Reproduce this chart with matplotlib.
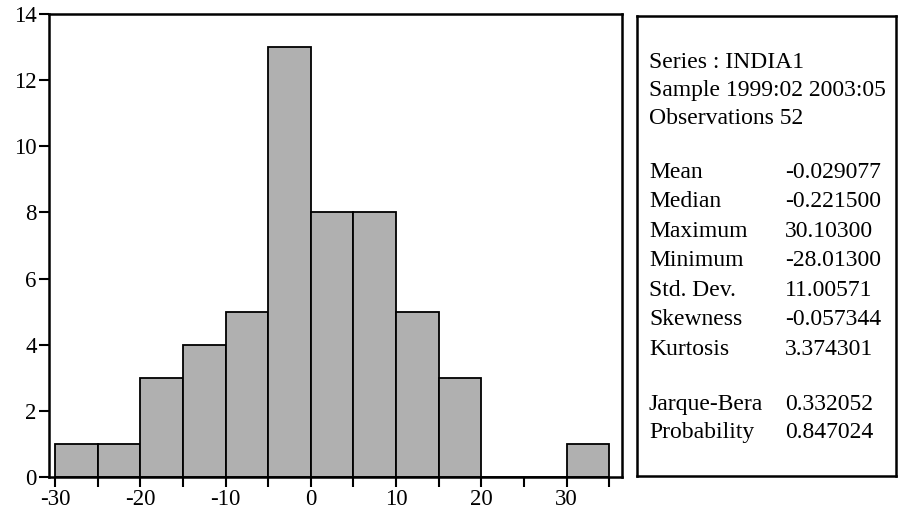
import numpy as np
import matplotlib.pyplot as plt

### 0. Data
bin_edges = [-30, -25, -20, -15, -10, -5, 0, 5, 10, 15, 20, 25, 30, 35]
counts = [1, 1, 3, 4, 5, 13, 8, 8, 5, 3, 0, 0, 1]
x_ticks = [-30, -25, -20, -15, -10, -5, 0, 5, 10, 15, 20, 25, 30, 35]
x_labels = ['-30', '', '-20', '', '-10', '', '0', '', '10', '', '20', '', '30', '']
y_ticks = [0, 2, 4, 6, 8, 10, 12, 14]

header_lines = ['Series : INDIA1', 'Sample 1999:02 2003:05', 'Observations 52']
stat_names = ['Mean', 'Median', 'Maximum', 'Minimum', 'Std. Dev.', 'Skewness', 'Kurtosis']
stat_values = ['-0.029077', '-0.221500', '30.10300', '-28.01300', '11.00571', '-0.057344', '3.374301']
test_names = ['Jarque-Bera', 'Probability']
test_values = ['0.332052', '0.847024']

plt.rcParams['font.family'] = ['Liberation Serif', 'DejaVu Serif']

### 1. Figure
fig = plt.figure(figsize=(9.01, 5.17), dpi=100)
ax = fig.add_axes([0.0544, 0.0774, 0.6360, 0.8956])

lefts = np.array(bin_edges[:-1])
widths = np.diff(bin_edges)
ax.bar(lefts, counts, width=widths, align='edge', color='#b0b0b0',
       edgecolor='black', linewidth=1.3)

ax.set_xlim(-30.7, 36.5)
ax.set_ylim(0, 14)
ax.set_xticks(x_ticks)
ax.set_xticklabels(x_labels)
ax.set_yticks(y_ticks)
ax.tick_params(axis='both', direction='out', length=7, width=1.5, labelsize=16.5, pad=2)
for s in ax.spines.values():
    s.set_linewidth(1.8)

### 2. Stats box
bx = fig.add_axes([0.707, 0.079, 0.287, 0.890])
bx.set_xticks([])
bx.set_yticks([])
bx.set_xlim(0, 259)
bx.set_ylim(460, 0)
for s in bx.spines.values():
    s.set_linewidth(1.8)

fs = 17
x_name = 12
x_val = 148
y = 46
for line in header_lines:
    bx.text(x_name, y, line, fontsize=fs, va='center')
    y += 28
y = 156
for n, v in zip(stat_names, stat_values):
    bx.text(x_name, y, n, fontsize=fs, va='center')
    bx.text(x_val, y, v, fontsize=fs, va='center')
    y += 29.5
y = 388
for n, v in zip(test_names, test_values):
    bx.text(x_name, y, n, fontsize=fs, va='center')
    bx.text(x_val, y, v, fontsize=fs, va='center')
    y += 28

fig.savefig('out.png', dpi=100)
